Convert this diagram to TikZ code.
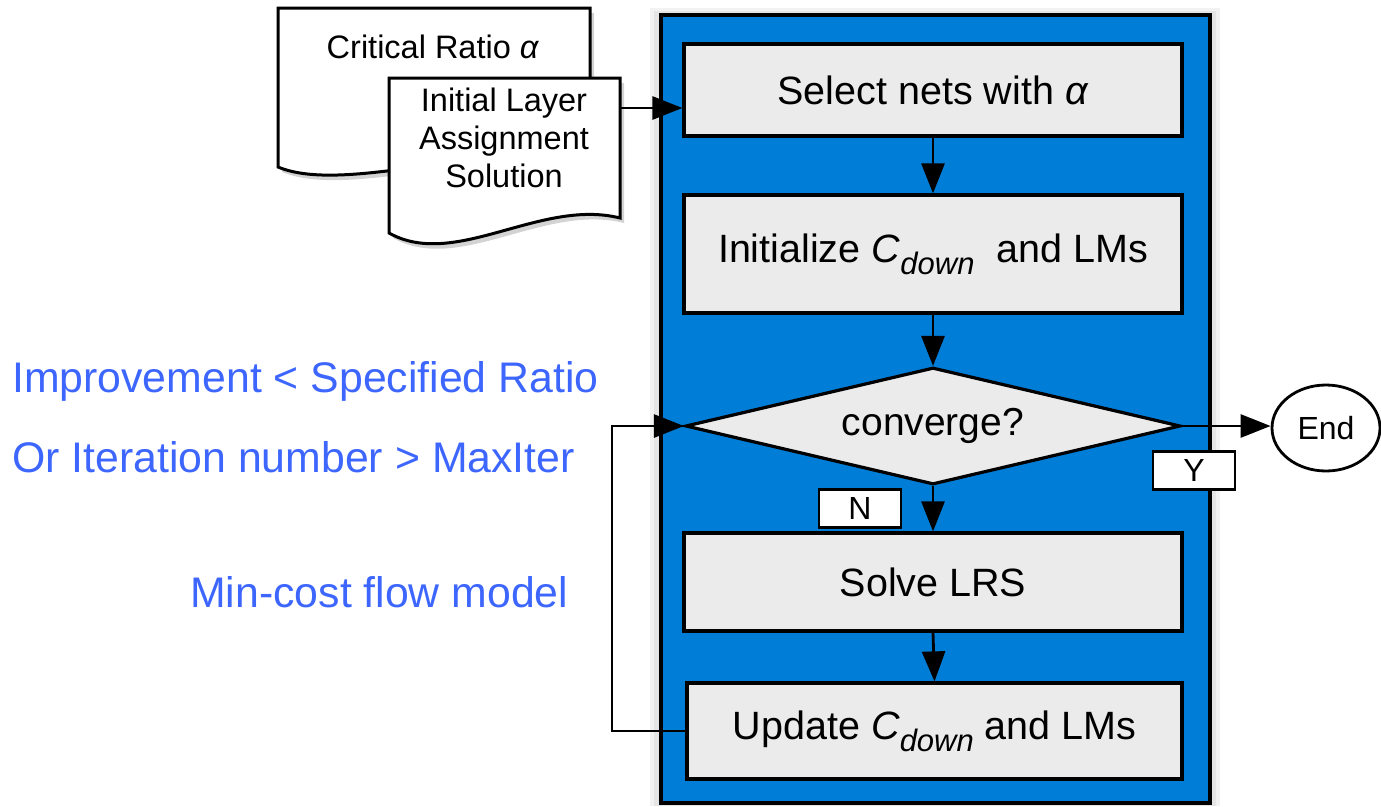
\documentclass[tikz,border=0pt]{standalone}
\usepackage{fontspec}
\setmainfont{Liberation Sans}
\usetikzlibrary{arrows.meta,shapes.geometric,shadows}
\definecolor{panelblue}{RGB}{0,125,214}
\definecolor{boxgray}{RGB}{235,235,235}
\definecolor{notecolor}{RGB}{61,102,255}
\newcommand\Cdown{\textit{C}\raisebox{-12pt}{\fontsize{31}{32}\selectfont\textit{down}}}
\tikzset{
  stepbox/.style={draw, line width=3.2pt, fill=boxgray, minimum width=498pt,
    inner sep=0pt, font=\fontsize{39.5}{44}\selectfont},
  flow/.style={line width=2.8pt, -{Triangle[length=30pt,width=23pt]}},
  tag/.style={draw, line width=2.4pt, fill=white, minimum width=82pt, minimum height=38pt,
    inner sep=0pt, font=\fontsize{32}{36}\selectfont},
  note/.style={text=notecolor, font=\fontsize{42.8}{46}\selectfont, inner sep=0pt, anchor=base west},
  doc/.style={draw, line width=3pt, fill=white,
    drop shadow={shadow xshift=4pt, shadow yshift=-5pt, opacity=0.35}},
  doctext/.style={font=\fontsize{32.5}{38}\selectfont, align=center, inner sep=0pt}
}
\begin{document}
\begin{tikzpicture}[x=1pt,y=-1pt]
\useasboundingbox (0,0) rectangle (1381,806);

% panel holding the iteration loop, with a soft grey halo
\fill[black!5] (650,8) rectangle (1220,806);
\fill[black!10] (654,11) rectangle (1216,806);
\draw[line width=3.2pt, fill=panelblue] (661,15) rectangle (1210,803);

% input documents
\path[doc] (278,8) -- (590,8) -- (590,160)
  .. controls (490,140) and (345,195) .. (278,167) -- cycle;
\node[doctext] (docA) at (433,47) {Critical Ratio \textit{α}};
\path[doc] (389,78) -- (620,78) -- (620,218)
  .. controls (540,198) and (455,270) .. (389,233) -- cycle;
\node[doctext] (docB) at (504,138) {Initial Layer\\Assignment\\Solution};
\coordinate (docB-out) at (620,108);

% flow steps
\node[stepbox, minimum height=92pt] (select) at (933,90) {Select nets with \textit{α}};
\node[stepbox, minimum height=118pt] (init) at (933,254) {Initialize \Cdown\ \ and LMs};
\node[diamond, draw, line width=3.2pt, fill=boxgray, minimum width=495pt,
  minimum height=117pt, aspect=4.23, inner sep=0pt,
  font=\fontsize{39}{44}\selectfont] (conv) at (933,426) {converge?};
\node[stepbox, minimum height=98pt] (solve) at (933,582) {Solve LRS};
\node[stepbox, minimum height=96pt, minimum width=495pt] (update) at (934.5,731) {Update \Cdown\ and LMs};
\node[draw, ellipse, line width=2.8pt, minimum width=108pt, minimum height=86pt,
  inner sep=0pt, font=\fontsize{32}{36}\selectfont] (end) at (1326,428) {End};

% branch labels
\node[tag] (yes) at (1194,470.5) {Y};
\node[tag] (no) at (860,508.5) {N};

% connectors
\draw[flow] (docB-out) -- (select.west |- docB-out);
\draw[flow] (select.south) -- (init.north);
\draw[flow] (init.south) -- (conv.north);
\draw[flow] (conv.south) -- (solve.north);
\draw[flow] (solve.south) -- (update.north);
\draw[flow] (conv.east) -- (end.west |- conv.east);
\coordinate (loopL) at (612,731);
\draw[flow] (update.west) -- (loopL) |- (conv.west);

% stopping criterion and solver notes
\node[note] (crit1) at (12,392) {Improvement < Specified Ratio};
\node[note] (crit2) at (12,472) {Or Iteration number > MaxIter};
\node[note] (solver) at (190,607) {Min-cost flow model};
\end{tikzpicture}
\end{document}
